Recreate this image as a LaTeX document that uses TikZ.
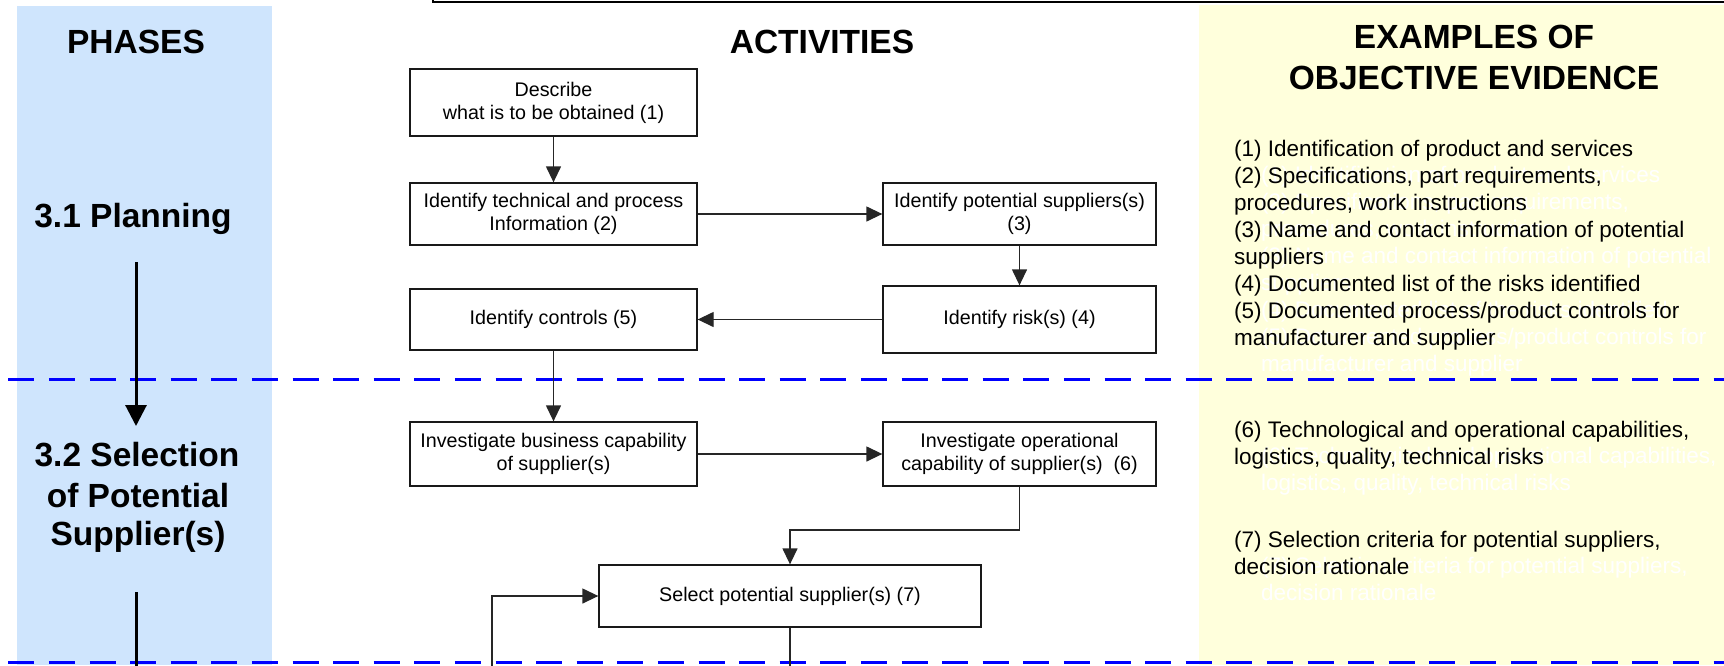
\documentclass[tikz,border=0pt]{standalone}
\usepackage{fontspec}
\setmainfont{Liberation Sans}
\usetikzlibrary{arrows.meta}
\definecolor{phaseblue}{RGB}{207,229,253}
\definecolor{evidyellow}{RGB}{255,255,220}
\definecolor{sepblue}{RGB}{0,0,255}

\begin{document}
\begin{tikzpicture}[x=1pt,y=-1pt,
  actbox/.style={draw=black!90, line width=1.3pt, fill=white, inner sep=2pt,
    align=center, font=\fontsize{19.7}{23}\selectfont},
  leftbox/.style={actbox, minimum width=287pt},
  rightbox/.style={actbox, minimum width=273pt},
  flow/.style={draw=black!85, line width=1.3pt, -{Triangle[length=16pt,width=15pt]}},
  flowline/.style={draw=black!85, line width=1.3pt},
  heading/.style={font=\fontsize{33.5}{40.7}\selectfont\bfseries, anchor=base, inner sep=0pt},
  evid/.style={font=\fontsize{22.5}{27}\selectfont, anchor=base west, inner sep=0pt},
  ghost/.style={evid, text=white},
  phasesep/.style={sepblue, line width=3pt, dash pattern=on 26pt off 14.6pt},
  phasearrow/.style={black, line width=3pt, -{Triangle[length=21pt,width=21pt]}},
]
\useasboundingbox (0,0) rectangle (1724,665);
\clip (0,0) rectangle (1724,665);

% column backgrounds
\fill[phaseblue] (17,5.5) rectangle (272,665);
\fill[evidyellow] (1199,5) rectangle (1724,665);

% frame edge at the top
\draw[black, line width=2.5pt] (433,-20) -- (433,2) -- (1740,2);

% phase separators
\draw[phasesep] (8.3,379) -- (1730,379);
\draw[phasesep] (8.3,662) -- (1730,662);

% column headings
\node[heading] (phases) at (136,53) {PHASES};
\node[heading] (activities) at (822,53) {ACTIVITIES};
\node[heading] (examples) at (1474,48.5) {EXAMPLES OF};
\node[heading] (objective) at (1474,89) {OBJECTIVE EVIDENCE};

% phases
\node[heading] (plan) at (133,227) {3.1 Planning};
\node[heading] (sel1) at (137,466) {3.2 Selection};
\node[heading] (sel2) at (138,507) {of Potential};
\node[heading] (sel3) at (138,545) {Supplier(s)};
\coordinate (phtop) at (136,262);
\coordinate (phtip) at (136,426);
\draw[phasearrow] (phtop) -- (phtip);
\coordinate (phnext) at (136,592);
\coordinate (phout) at (136,670);
\draw[black, line width=3pt] (phnext) -- (phout);

% activities
\node[leftbox, minimum height=67pt] (describe) at (553.5,102.5) {Describe\\what is to be obtained (1)};
\node[leftbox, minimum height=62pt] (techinfo) at (553.5,214) {Identify technical and process\\Information (2)};
\node[rightbox, minimum height=62pt] (suppliers) at (1019.5,214) {Identify potential suppliers(s)\\(3)};
\node[rightbox, minimum height=67pt] (risks) at (1019.5,319.5) {Identify risk(s) (4)};
\node[leftbox, minimum height=61pt] (controls) at (553.5,319.5) {Identify controls (5)};
\node[leftbox, minimum height=64pt] (business) at (553.5,454) {Investigate business capability\\of supplier(s)};
\node[rightbox, minimum height=64pt] (operational) at (1019.5,454) {Investigate operational\\capability of supplier(s)\ \ (6)};
\node[actbox, minimum width=382pt, minimum height=62pt] (select) at (790,596) {Select potential supplier(s) (7)};

\draw[flow] (describe) -- (techinfo);
\draw[flow] (techinfo) -- (suppliers);
\draw[flow] (suppliers) -- (risks);
\draw[flow] (risks) -- (controls);
\draw[flow] (controls) -- (business);
\draw[flow] (business) -- (operational);
\coordinate (opbend) at (1019.5,530);
\draw[flow] (operational.south) -- (opbend) -| (select.north);
\coordinate (feed) at (492,670);
\draw[flow] (feed) |- (select.west);
\coordinate (selectout) at (790,670);
\draw[flowline] (select.south) -- (selectout);

% objective evidence, with its white offset shadow underneath
\def\evidencelist{156/{(1) Identification of product and services},
  183/{(2) Specifications, part requirements,},
  210.1/{procedures, work instructions},
  237.2/{(3) Name and contact information of potential},
  264.2/{suppliers},
  291.3/{(4) Documented list of the risks identified},
  318.3/{(5) Documented process/product controls for},
  345.4/{manufacturer and supplier},
  437/{(6) Technological and operational capabilities,},
  464/{logistics, quality, technical risks},
  547/{(7) Selection criteria for potential suppliers,},
  574/{decision rationale}}
\foreach \yy/\txt [count=\i] in \evidencelist
  \node[ghost] (evshadow\i) at (1261,\yy+26) {\txt};
\foreach \yy/\txt [count=\i] in \evidencelist
  \node[evid] (ev\i) at (1234,\yy) {\txt};
\end{tikzpicture}
\end{document}
